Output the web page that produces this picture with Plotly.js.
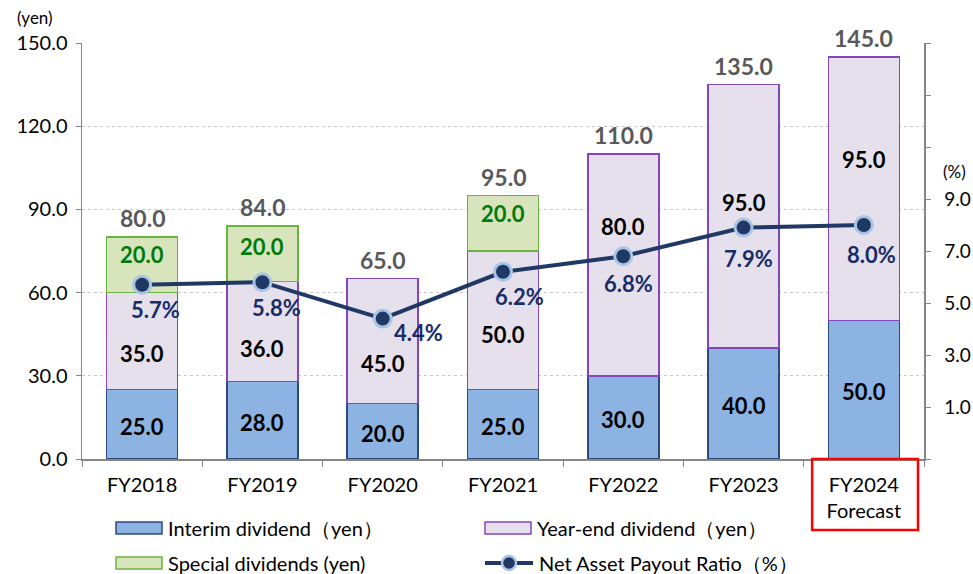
<!DOCTYPE html>
<html>
<head>
<meta charset="utf-8">
<script src="https://cdn.plot.ly/plotly-3.0.1.min.js"></script>
<style>
  body { margin: 0; background: white; }
  #chart { width: 973px; height: 574px; }
</style>
</head>
<body>
<div id="chart"></div>
<script>
// values
var years = ["FY2018", "FY2019", "FY2020", "FY2021", "FY2022", "FY2023", "FY2024<br>Forecast"];
var interim = [25, 28, 20, 25, 30, 40, 50];
var yearEnd = [35, 36, 45, 50, 80, 95, 95];
var special = [20, 20, null, 20, null, null, null];
var totals = [80, 84, 65, 95, 110, 135, 145];
var payout = [5.7, 5.8, 4.4, 6.2, 6.8, 7.9, 8.0];

// label nudges (pixels), as placed by hand in the original
var yearEndShift = [-12, -17, -22, -14, 38, 14, 29];
var specialShift = [10, 7, 0, 10, 0, 0, 0];
var pctShiftX = [13, 14, 36, 16, 5, 5, 8];
var pctShiftY = [-25, -25, -14, -25, -27, -31, -29];

var fontFam = "Lato, 'Open Sans', sans-serif";
var navy = "#1F3864";

var colInterim = { fill: "#8DB3E2", line: "#2E4A7D" };
var colYearEnd = { fill: "#E6E0EC", line: "#8446BF" };
var colSpecial = { fill: "#D7E4BC", line: "#6BB340" };

var traces = [
    {
        x: years, y: interim, type: "bar", name: "Interim dividend（yen）",
        marker: { color: colInterim.fill, line: { color: colInterim.line, width: 1.5 } },
        hoverinfo: "skip"
    },
    {
        x: years, y: yearEnd, type: "bar", name: "Year-end dividend（yen）",
        marker: { color: colYearEnd.fill, line: { color: colYearEnd.line, width: 1.5 } },
        hoverinfo: "skip"
    },
    {
        x: years, y: special, type: "bar", name: "Special dividends (yen)",
        marker: { color: colSpecial.fill, line: { color: colSpecial.line, width: 1.5 } },
        hoverinfo: "skip"
    },
    {
        x: years, y: payout, type: "scatter", mode: "lines+markers", yaxis: "y2",
        name: "Net Asset Payout Ratio（%）",
        line: { color: navy, width: 4 },
        marker: { color: navy, size: 17, line: { color: "#A9C4E4", width: 3 } },
        hoverinfo: "skip"
    }
];

var annotations = [];
for (var i = 0; i < years.length; i++) {
    // total on top
    annotations.push({
        x: years[i], y: totals[i], yref: "y", text: totals[i].toFixed(1),
        showarrow: false, yanchor: "middle", yshift: 19,
        font: { family: fontFam, size: 23, color: "#595959", weight: "bold" }
    });
    // interim
    annotations.push({
        x: years[i], y: interim[i] / 2, yref: "y", text: interim[i].toFixed(1),
        showarrow: false, yanchor: "middle", yshift: -2,
        font: { family: fontFam, size: 22, color: "black", weight: "bold" }
    });
    // year-end
    annotations.push({
        x: years[i], y: interim[i] + yearEnd[i] / 2, yref: "y", text: yearEnd[i].toFixed(1),
        showarrow: false, yanchor: "middle", yshift: yearEndShift[i],
        font: { family: fontFam, size: 22, color: "black", weight: "bold" }
    });
    // special
    if (special[i] !== null) {
        annotations.push({
            x: years[i], y: interim[i] + yearEnd[i] + special[i] / 2, yref: "y",
            text: special[i].toFixed(1), showarrow: false, yanchor: "middle",
            yshift: specialShift[i],
            font: { family: fontFam, size: 22, color: "#007A0A", weight: "bold" }
        });
    }
    // payout ratio
    annotations.push({
        x: years[i], y: payout[i], yref: "y2", text: payout[i].toFixed(1) + "%",
        showarrow: false, yanchor: "middle", xshift: pctShiftX[i], yshift: pctShiftY[i],
        font: { family: fontFam, size: 22, color: "#172C68", weight: "bold" }
    });
}

annotations.push({
    xref: "paper", yref: "paper", x: -0.056, y: 1.0625, text: "(yen)",
    showarrow: false, xanchor: "center", yanchor: "middle",
    font: { family: fontFam, size: 17, color: "black" }
});
annotations.push({
    xref: "paper", yref: "paper", x: 1.036, y: 0.692, text: "(%)",
    showarrow: false, xanchor: "center", yanchor: "middle",
    font: { family: fontFam, size: 17, color: "black" }
});

// hand-drawn legend (pixel positions turned into paper coords)
var plotL = 82, plotW = 842, plotB = 459, plotH = 416;
function px(x) { return (x - plotL) / plotW; }
function py(y) { return (plotB - y) / plotH; }

var shapes = [
    {
        type: "rect", xref: "x", yref: "paper",
        x0: 5.57, x1: 6.45, y0: py(530), y1: 0,
        line: { color: "#FF0000", width: 2.5 }
    }
];

var legendItems = [
    { name: traces[0].name, col: colInterim, x: 116, y: 528 },
    { name: traces[1].name, col: colYearEnd, x: 485, y: 528 },
    { name: traces[2].name, col: colSpecial, x: 116, y: 563 }
];
legendItems.forEach(function (it) {
    shapes.push({
        type: "rect", xref: "paper", yref: "paper",
        x0: px(it.x), x1: px(it.x + 46), y0: py(it.y + 6), y1: py(it.y - 6),
        fillcolor: it.col.fill, line: { color: it.col.line, width: 1.5 }
    });
    annotations.push({
        xref: "paper", yref: "paper", x: px(it.x + 50), y: py(it.y), text: it.name,
        showarrow: false, xanchor: "left", yanchor: "middle",
        font: { family: fontFam, size: 20, color: "black" }
    });
});
// line legend entry
shapes.push({
    type: "line", xref: "paper", yref: "paper",
    x0: px(485), x1: px(533), y0: py(563), y1: py(563),
    line: { color: navy, width: 4 }
});
shapes.push({
    type: "circle", xref: "paper", yref: "paper",
    x0: px(502), x1: px(516), y0: py(570), y1: py(556),
    fillcolor: navy, line: { color: "#A9C4E4", width: 2.5 }
});
annotations.push({
    xref: "paper", yref: "paper", x: px(537), y: py(563), text: traces[3].name,
    showarrow: false, xanchor: "left", yanchor: "middle",
    font: { family: fontFam, size: 20, color: "black" }
});

var layout = {
    width: 973,
    height: 574,
    margin: { l: 82, r: 49, t: 43, b: 115 },
    barmode: "stack",
    bargap: 0.41,
    paper_bgcolor: "white",
    plot_bgcolor: "white",
    font: { family: fontFam, size: 18, color: "black" },
    showlegend: false,
    xaxis: {
        type: "category",
        showline: true, linecolor: "#868686", linewidth: 1.5,
        ticks: "outside", tickson: "boundaries", ticklen: 6, tickcolor: "#868686",
        showgrid: false,
        ticklabelstandoff: 7,
        tickfont: { family: fontFam, size: 20, color: "black" }
    },
    yaxis: {
        range: [0, 150], dtick: 30, tickformat: ".1f",
        showline: true, linecolor: "#868686", linewidth: 1.5,
        ticks: "outside", ticklen: 5, tickcolor: "#868686",
        showgrid: true, gridcolor: "#C8C8C8", griddash: "dot", gridwidth: 1,
        zeroline: false,
        ticklabelstandoff: 4,
        tickfont: { family: fontFam, size: 20, color: "black" }
    },
    yaxis2: {
        overlaying: "y", side: "right",
        range: [-1, 15],
        tickvals: [-1, 1, 3, 5, 7, 9, 11, 13, 15],
        ticktext: ["", "1.0", "3.0", "5.0", "7.0", "9.0", "", "", ""],
        showline: true, linecolor: "#868686", linewidth: 1.5,
        ticks: "outside", ticklen: 5, tickcolor: "#868686",
        showgrid: false, zeroline: false,
        ticklabelstandoff: 10,
        tickfont: { family: fontFam, size: 19, color: "black" }
    },
    shapes: shapes,
    annotations: annotations
};

Plotly.newPlot("chart", traces, layout, { displayModeBar: false, staticPlot: true });
</script>
</body>
</html>
